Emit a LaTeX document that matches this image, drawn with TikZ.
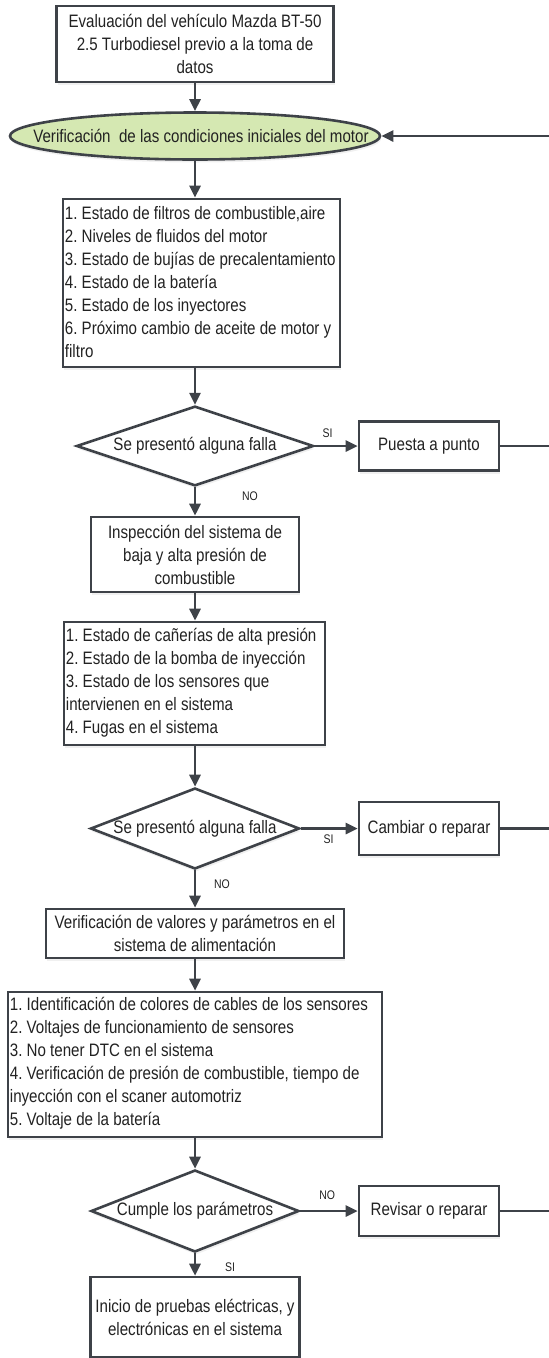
\documentclass[tikz,border=0pt]{standalone}
\usepackage{fontspec}
\setmainfont[FakeStretch=0.84]{Liberation Sans}
\usetikzlibrary{shapes.geometric,arrows.meta,shadows}
\definecolor{borde}{RGB}{62,66,72}
\definecolor{verdeclaro}{RGB}{213,232,178}
\definecolor{texto}{RGB}{34,34,34}
\frenchspacing
\begin{document}
\begin{tikzpicture}[x=1pt,y=-1pt,
  caja/.style={draw=borde,line width=2.6pt,fill=white,rectangle,inner sep=0pt,align=center,
    text=texto,font=\fontsize{18}{23}\selectfont,
    drop shadow={shadow xshift=1pt,shadow yshift=-3pt,opacity=0.12}},
  textolista/.style={anchor=west,align=left,inner sep=0pt,xshift=3pt,
    text=texto,font=\fontsize{18}{23}\selectfont},
  decision/.style={caja,diamond,aspect=2.6},
  elipse/.style={caja,ellipse,fill=verdeclaro},
  flecha/.style={draw=borde,line width=2.6pt,-{Triangle[length=12pt,width=11pt]}},
  linea/.style={draw=borde,line width=2.6pt},
  etiqueta/.style={text=texto,font=\fontsize{12.5}{14}\selectfont,inner sep=0pt}]
\useasboundingbox (0,0) rectangle (549,1358);

% columna principal
\node[caja,minimum width=277,minimum height=76] (eval) at (195,44)
  {Evaluación del vehículo Mazda BT-50\\2.5 Turbodiesel previo a la toma de\\datos};
\node[elipse,minimum width=370,minimum height=47,
  label={[text=texto,font=\fontsize{18}{23}\selectfont,xshift=6pt]center:Verificación~ de las condiciones iniciales del motor}]
  (verif) at (195,136) {};
\node[caja,minimum width=277,minimum height=168] (lista1) at (201.5,283) {};
\node[textolista,yshift=1pt] (lista1t) at (lista1.west)
  {1. Estado de filtros de combustible,aire\\
   2. Niveles de fluidos del motor\\
   3. Estado de bujías de precalentamiento\\
   4. Estado de la batería\\
   5. Estado de los inyectores\\
   6. Próximo cambio de aceite de motor y\\
   filtro};
\node[decision,minimum width=237,minimum height=76] (falla1) at (195,446) {Se presentó alguna falla};
\node[caja,minimum width=208,minimum height=75] (inspec) at (195,554.5)
  {Inspección del sistema de\\baja y alta presión de\\combustible};
\node[caja,minimum width=261,minimum height=123] (lista2) at (194.5,683.5) {};
\node[textolista,yshift=1pt] (lista2t) at (lista2.west)
  {1. Estado de cañerías de alta presión\\
   2. Estado de la bomba de inyección\\
   3. Estado de los sensores que\\
   intervienen en el sistema\\
   4. Fugas en el sistema};
\node[decision,minimum width=209,minimum height=81] (falla2) at (195,828.5) {Se presentó alguna falla};
\node[caja,minimum width=298,minimum height=49] (valores) at (195,933.5)
  {Verificación de valores y parámetros en el\\sistema de alimentación};
\node[caja,minimum width=374,minimum height=145] (lista3) at (195,1064.5) {};
\node[textolista,yshift=1pt] (lista3t) at (lista3.west)
  {1. Identificación de colores de cables de los sensores\\
   2. Voltajes de funcionamiento de sensores\\
   3. No tener DTC en el sistema\\
   4. Verificación de presión de combustible, tiempo de\\
   inyección con el scaner automotriz\\
   5. Voltaje de la batería};
\node[decision,minimum width=208,minimum height=82] (cumple) at (195,1211) {Cumple los parámetros};
\node[caja,minimum width=209,minimum height=80] (inicio) at (195,1317)
  {Inicio de pruebas eléctricas, y\\electrónicas en el sistema};

% columna derecha
\node[caja,minimum width=140,minimum height=49] (puesta) at (429,446) {Puesta a punto};
\node[caja,minimum width=140,minimum height=53] (cambiar) at (429,828.5) {Cambiar o reparar};
\node[caja,minimum width=140,minimum height=50] (revisar) at (429,1211) {Revisar o reparar};
\coordinate (ret0) at (549,136);
\coordinate (ret1) at (549,446);
\coordinate (ret2) at (549,828.5);
\coordinate (ret3) at (549,1211);

% conectores
\draw[flecha] (eval.south) -- (eval.south |- verif.north);
\draw[flecha] (verif.south) -- (verif.south |- lista1.north);
\draw[flecha] (verif.south |- lista1.south) -- (falla1.north);
\draw[flecha] (falla1.south) -- node[etiqueta,pos=0.3,xshift=55pt]{NO} (inspec.north);
\draw[flecha] (inspec.south) -- (inspec.south |- lista2.north);
\draw[flecha] (inspec.south |- lista2.south) -- (falla2.north);
\draw[flecha] (falla2.south) -- node[etiqueta,pos=0.37,xshift=27pt]{NO} (valores.north);
\draw[flecha] (valores.south) -- (lista3.north);
\draw[flecha] (lista3.south) -- (cumple.north);
\draw[flecha] (cumple.south) -- node[etiqueta,pos=0.6,xshift=35pt]{SI} (inicio.north);
\draw[flecha] (falla1.east) -- node[etiqueta,pos=0.3,yshift=13pt]{SI} (puesta.west);
\draw[flecha] (falla2.east) -- node[etiqueta,pos=0.49,yshift=-11pt]{SI} (cambiar.west);
\draw[flecha] (cumple.east) -- node[etiqueta,pos=0.47,yshift=16pt]{NO} (revisar.west);
\draw[linea] (puesta.east) -- (ret1);
\draw[linea] (cambiar.east) -- (ret2);
\draw[linea] (revisar.east) -- (ret3);
\draw[flecha] (ret0) -- (verif.east);
\end{tikzpicture}
\end{document}
